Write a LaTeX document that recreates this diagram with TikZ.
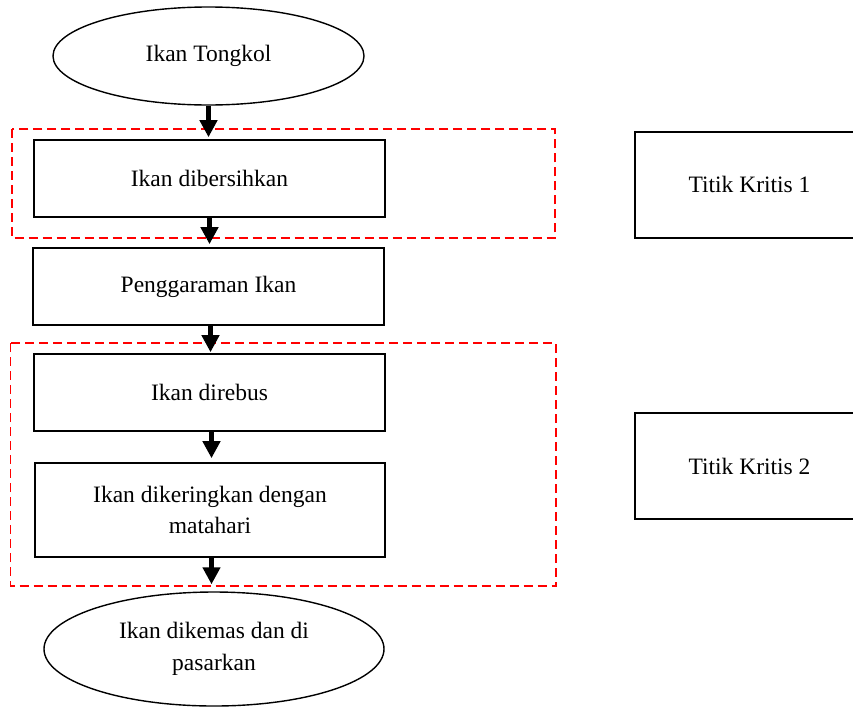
\documentclass[tikz,border=0pt]{standalone}
\usepackage{fontspec}
\setmainfont{Liberation Serif}
\usetikzlibrary{arrows.meta,shapes.geometric}
\begin{document}
\begin{tikzpicture}[x=1pt,y=-1pt,
  txt/.style={font=\fontsize{23.5}{31.5}\selectfont, align=center, text=black},
  stepbox/.style={txt, draw=black, line width=1.6pt, rectangle, inner sep=0pt},
  endbox/.style={txt, draw=black, line width=1.4pt, ellipse, inner sep=0pt},
  zone/.style={draw=red, line width=1.8pt, dash pattern=on 9pt off 5pt},
  arr/.style={line width=5pt, -{Triangle[width=17pt,length=17pt]}}
]
\useasboundingbox (0,0) rectangle (853,707);
\clip (0,0) rectangle (853,707);

% dashed critical zones
\draw[zone] (11.7,129) rectangle (555,238);
\draw[zone] (10.5,343) rectangle (556,586);

% process nodes
\node[endbox, minimum width=311pt, minimum height=98pt] (e1) at (208.5,56) {Ikan Tongkol};
\node[stepbox, minimum width=351pt, minimum height=77pt] (b1) at (209.5,178.5) {Ikan dibersihkan};
\node[stepbox, minimum width=351pt, minimum height=77pt] (b2) at (208.5,286.5) {Penggaraman Ikan};
\node[stepbox, minimum width=351pt, minimum height=77pt] (b3) at (209.5,392.5) {Ikan direbus};
\node[stepbox, minimum width=350pt, minimum height=94pt] (b4) at (210,510) {Ikan dikeringkan dengan\\matahari};
\node[endbox, minimum width=340pt, minimum height=114pt] (e2) at (214,649) {Ikan dikemas dan di\\pasarkan};

% critical point labels
\node[stepbox, minimum width=229pt, minimum height=106pt] (t1) at (749.5,184.7) {Titik Kritis 1};
\node[stepbox, minimum width=229pt, minimum height=106pt] (t2) at (749.5,466) {Titik Kritis 2};

% arrows
\draw[arr, shorten >=2pt] (e1.south) -- (e1.south |- b1.north);
\draw[arr, shorten >=3pt] (b1.south) -- (b1.south |- b2.north);
\draw[arr, shorten >=1pt] ([xshift=2pt]b2.south) -- ([xshift=2pt]b2.south |- b3.north);
\draw[arr, shorten >=4pt] ([xshift=2pt]b3.south) -- ([xshift=2pt]b3.south |- b4.north);
\draw[arr, shorten >=7pt] ([xshift=1.5pt]b4.south) -- ([xshift=1.5pt]b4.south |- e2.north);
\end{tikzpicture}
\end{document}
